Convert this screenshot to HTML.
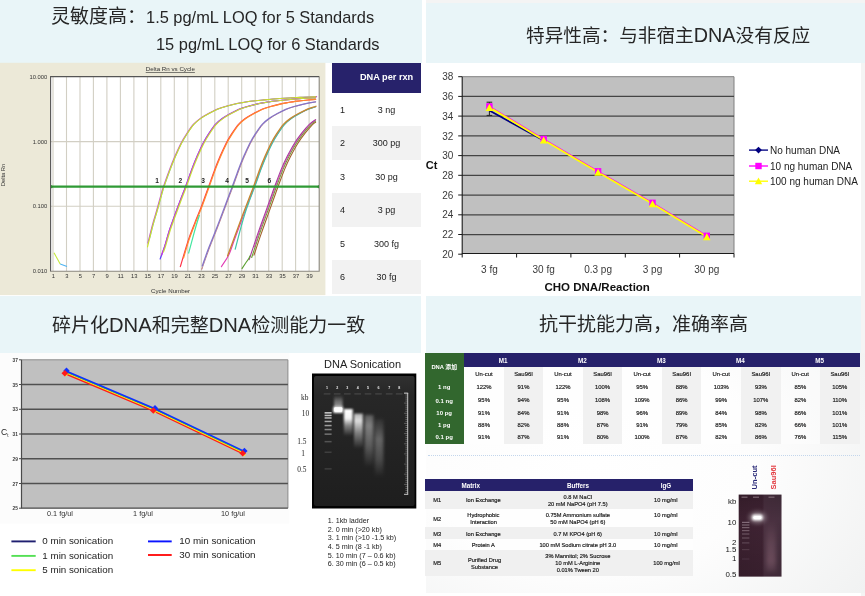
<!DOCTYPE html>
<html lang="zh">
<head>
<meta charset="utf-8">
<title>resDNA assay performance</title>
<style>
html,body{margin:0;padding:0;background:#fff;}
body{width:865px;height:596px;overflow:hidden;position:relative;font-family:"Liberation Sans","Noto Sans CJK SC",sans-serif;color:#222;}
#stage{position:absolute;left:0;top:0;width:865px;height:596px;overflow:hidden;background:#fff;filter:blur(0.45px);}
.abs{position:absolute;}
.band{position:absolute;background:#e9f5f8;}
.ttl{position:absolute;white-space:nowrap;color:#262626;font-size:19px;line-height:24px;font-family:"Liberation Sans","Noto Sans CJK SC",sans-serif;}
.ttl .en{font-size:16.4px;}
.ttl .d{font-size:20.2px;}
.c{transform:translateX(-50%);}
.t{position:absolute;white-space:nowrap;line-height:1;}
</style>
</head>
<body>
<div id="stage">
<!-- ===== header bands + titles ===== -->
<div class="abs" style="left:426px;top:0;width:439px;height:3px;background:#f4f4f4"></div>
<div class="band" style="left:0;top:0;width:422px;height:62.5px"></div>
<div class="band" style="left:426px;top:2.5px;width:439px;height:60px"></div>
<div class="band" style="left:0;top:296px;width:420.5px;height:57px"></div>
<div class="band" style="left:426px;top:296px;width:434.8px;height:56.6px"></div>
<div class="abs" style="left:860.8px;top:62.5px;width:4.2px;height:533.5px;background:#f4f4f4"></div>

<div class="ttl" style="left:51px;top:5px">灵敏度高：<span class="en" style="margin-left:0px">1.5 pg/mL LOQ for 5 Standards</span></div>
<div class="ttl" style="left:156px;top:32px"><span class="en">15 pg/mL LOQ for 6 Standards</span></div>
<div class="ttl" style="left:526px;top:22.6px;font-size:18.65px">特异性高：与非宿主<span class="d" style="font-size:19.8px">DNA</span>没有反应</div>
<div class="ttl" style="left:52px;top:313.2px">碎片化<span class="d">DNA</span>和完整<span class="d">DNA</span>检测能力一致</div>
<div class="ttl" style="left:539px;top:313px">抗干扰能力高，准确率高</div>
<!-- ===== chart 1 : amplification plot ===== -->
<svg class="abs" style="left:0;top:62px" width="327" height="234" viewBox="0 62 327 234" font-family="Liberation Sans, sans-serif">
<rect x="0" y="62.8" width="325.4" height="232.3" fill="#ece9d8"/>
<rect x="51" y="77" width="268" height="194" fill="#ffffff"/>
<path d="M53.0 77V271M66.5 77V271M80.0 77V271M93.4 77V271M106.9 77V271M120.4 77V271M133.9 77V271M147.4 77V271M160.8 77V271M174.3 77V271M187.8 77V271M201.3 77V271M214.8 77V271M228.2 77V271M241.7 77V271M255.2 77V271M268.7 77V271M282.2 77V271M295.6 77V271M309.1 77V271M51 141.6H319M51 206.2H319" stroke="#d2cfc4" stroke-width="1.1" fill="none"/>
<path d="M50.6 271.6V76.6H319.4" stroke="#555" stroke-width="1.1" fill="none"/>
<path d="M319.2 77V271.3H50.6" stroke="#8a8880" stroke-width="1.1" fill="none"/>
<path d="M149.8 238.0C150.4 235.9 151.8 229.8 153.0 225.3C154.2 220.8 155.8 215.9 157.2 211.0C158.6 206.1 160.2 200.0 161.4 195.9C162.6 191.8 162.6 191.2 164.1 186.7C165.6 182.2 168.6 174.0 170.5 168.9C172.4 163.8 173.8 160.5 175.6 156.3C177.4 152.1 179.4 147.5 181.4 143.7C183.4 139.9 185.2 136.9 187.3 133.7C189.4 130.5 191.8 126.9 194.0 124.4C196.2 121.9 198.2 120.4 200.7 118.6C203.2 116.8 206.3 115.0 209.1 113.5C211.9 112.0 214.7 110.5 217.5 109.3C220.3 108.1 223.1 107.3 225.9 106.5C228.7 105.7 231.5 105.0 234.3 104.3C237.1 103.6 240.0 103.1 242.7 102.6C245.4 102.1 247.0 101.7 250.4 101.3C253.8 100.9 258.4 100.5 263.4 100.0C268.4 99.5 274.2 98.9 280.4 98.5C286.6 98.1 294.5 97.7 300.4 97.4C306.3 97.1 313.1 96.8 315.6 96.7" stroke="#6fb6ee" stroke-width="1.0" fill="none" stroke-linecap="round"/>
<path d="M147.9 243.0C148.6 240.1 150.9 230.6 152.3 225.3C153.7 220.0 155.1 215.9 156.5 211.0C157.9 206.1 159.5 200.0 160.7 195.9C161.8 191.8 161.9 191.2 163.4 186.7C164.9 182.2 167.9 174.0 169.8 168.9C171.7 163.8 173.1 160.5 174.9 156.3C176.7 152.1 178.8 147.5 180.7 143.7C182.6 139.9 184.5 136.9 186.6 133.7C188.7 130.5 191.1 126.9 193.3 124.4C195.5 121.9 197.5 120.4 200.0 118.6C202.5 116.8 205.6 115.0 208.4 113.5C211.2 112.0 214.0 110.5 216.8 109.3C219.6 108.1 222.4 107.3 225.2 106.5C228.0 105.7 230.8 105.0 233.6 104.3C236.4 103.6 239.3 103.1 242.0 102.6C244.7 102.1 246.2 101.7 249.7 101.3C253.1 100.9 257.7 100.5 262.7 100.0C267.7 99.5 273.5 98.9 279.7 98.5C285.9 98.1 293.8 97.7 299.7 97.4C305.6 97.1 312.6 96.8 315.3 96.7C318.0 96.6 315.6 96.7 315.6 96.7" stroke="#c24fd2" stroke-width="1.1" fill="none" stroke-linecap="round"/>
<path d="M147.9 245.4C147.9 245.4 147.1 248.8 147.9 245.4C148.7 242.1 151.4 231.0 152.9 225.3C154.4 219.6 155.7 215.9 157.1 211.0C158.5 206.1 160.2 200.0 161.3 195.9C162.5 191.8 162.5 191.2 164.0 186.7C165.5 182.2 168.5 174.0 170.4 168.9C172.3 163.8 173.7 160.5 175.5 156.3C177.3 152.1 179.4 147.5 181.3 143.7C183.2 139.9 185.1 136.9 187.2 133.7C189.3 130.5 191.7 126.9 193.9 124.4C196.1 121.9 198.1 120.4 200.6 118.6C203.1 116.8 206.2 115.0 209.0 113.5C211.8 112.0 214.6 110.5 217.4 109.3C220.2 108.1 223.0 107.3 225.8 106.5C228.6 105.7 231.4 105.0 234.2 104.3C237.0 103.6 239.9 103.1 242.6 102.6C245.3 102.1 246.9 101.7 250.3 101.3C253.8 100.9 258.3 100.5 263.3 100.0C268.3 99.5 274.1 98.9 280.3 98.5C286.5 98.1 294.4 97.7 300.3 97.4C306.2 97.1 313.1 96.8 315.6 96.7" stroke="#c9e326" stroke-width="1.1" fill="none" stroke-linecap="round"/>
<path d="M160.3 258.5C160.4 258.4 159.8 260.0 160.5 258.0C161.2 256.0 163.3 250.6 164.7 246.3C166.1 242.0 167.4 236.8 168.9 232.0C170.4 227.2 172.1 222.8 173.9 217.8C175.7 212.8 177.8 207.0 179.8 201.8C181.7 196.6 183.6 192.2 185.6 186.7C187.6 181.2 190.1 174.0 192.0 168.9C193.9 163.8 195.3 160.5 197.1 156.3C198.9 152.1 200.9 147.5 202.9 143.7C204.9 139.9 206.7 136.9 208.8 133.7C210.9 130.5 213.3 126.9 215.5 124.4C217.7 121.9 219.7 120.4 222.2 118.6C224.7 116.8 227.8 115.0 230.6 113.5C233.4 112.0 236.2 110.5 239.0 109.3C241.8 108.1 244.6 107.3 247.4 106.5C250.2 105.7 253.0 105.0 255.8 104.3C258.6 103.6 261.5 103.1 264.2 102.6C266.9 102.1 268.5 101.7 271.9 101.3C275.4 100.9 279.9 100.5 284.9 100.0C289.9 99.5 296.8 98.9 301.9 98.5C307.0 98.1 313.3 97.9 315.6 97.7" stroke="#5a3cff" stroke-width="1.2" fill="none" stroke-linecap="round"/>
<path d="M161.6 255.0C162.1 253.6 163.5 250.1 164.7 246.3C165.9 242.5 167.4 236.8 168.9 232.0C170.4 227.2 172.1 222.8 173.9 217.8C175.7 212.8 177.8 207.0 179.8 201.8C181.7 196.6 183.6 192.2 185.6 186.7C187.6 181.2 190.1 174.0 192.0 168.9C193.9 163.8 195.3 160.5 197.1 156.3C198.9 152.1 200.9 147.5 202.9 143.7C204.9 139.9 206.7 136.9 208.8 133.7C210.9 130.5 213.3 126.9 215.5 124.4C217.7 121.9 219.7 120.4 222.2 118.6C224.7 116.8 227.8 115.0 230.6 113.5C233.4 112.0 236.2 110.5 239.0 109.3C241.8 108.1 244.6 107.3 247.4 106.5C250.2 105.7 253.0 105.0 255.8 104.3C258.6 103.6 261.5 103.1 264.2 102.6C266.9 102.1 268.5 101.7 271.9 101.3C275.4 100.9 279.9 100.5 284.9 100.0C289.9 99.5 296.8 98.9 301.9 98.5C307.0 98.1 313.3 97.9 315.6 97.7" stroke="#d238d2" stroke-width="1.1" fill="none" stroke-linecap="round"/>
<path d="M163.5 252.0C163.8 251.1 164.5 249.6 165.5 246.3C166.5 243.0 168.2 236.8 169.7 232.0C171.2 227.2 172.9 222.8 174.7 217.8C176.5 212.8 178.7 207.0 180.6 201.8C182.5 196.6 184.4 192.2 186.4 186.7C188.4 181.2 190.9 174.0 192.8 168.9C194.7 163.8 196.1 160.5 197.9 156.3C199.7 152.1 201.8 147.5 203.7 143.7C205.7 139.9 207.5 136.9 209.6 133.7C211.7 130.5 214.1 126.9 216.3 124.4C218.5 121.9 220.5 120.4 223.0 118.6C225.5 116.8 228.6 115.0 231.4 113.5C234.2 112.0 237.0 110.5 239.8 109.3C242.6 108.1 245.4 107.3 248.2 106.5C251.0 105.7 253.8 105.0 256.6 104.3C259.4 103.6 262.3 103.1 265.0 102.6C267.7 102.1 269.2 101.7 272.7 101.3C276.1 100.9 280.7 100.5 285.7 100.0C290.7 99.5 297.7 98.9 302.7 98.5C307.7 98.1 313.5 97.9 315.6 97.8" stroke="#c4e233" stroke-width="1.1" fill="none" stroke-linecap="round"/>
<path d="M180.9 264.7C180.9 264.7 179.6 268.9 180.9 264.7C182.2 260.5 186.1 246.7 188.5 239.6C190.9 232.5 193.0 227.6 195.2 221.9C197.4 216.2 199.7 211.1 201.9 205.2C204.1 199.3 206.4 192.8 208.6 186.7C210.8 180.6 213.1 174.0 215.0 168.9C216.9 163.8 218.3 160.5 220.1 156.3C221.9 152.1 224.0 147.5 225.9 143.7C227.8 139.9 229.7 136.9 231.8 133.7C233.9 130.5 236.3 126.9 238.5 124.4C240.7 121.9 242.7 120.4 245.2 118.6C247.7 116.8 250.8 115.0 253.6 113.5C256.4 112.0 259.2 110.5 262.0 109.3C264.8 108.1 267.6 107.3 270.4 106.5C273.2 105.7 276.0 105.0 278.8 104.3C281.6 103.6 284.5 103.1 287.2 102.6C289.9 102.1 291.5 101.7 294.9 101.3C298.4 100.9 304.5 100.3 307.9 100.0C311.4 99.7 314.3 99.4 315.6 99.3" stroke="#ff3348" stroke-width="1.2" fill="none" stroke-linecap="round"/>
<path d="M183.5 258.0C184.5 254.9 187.1 245.6 189.1 239.6C191.1 233.6 193.6 227.6 195.8 221.9C198.0 216.2 200.3 211.1 202.5 205.2C204.7 199.3 207.0 192.8 209.2 186.7C211.4 180.6 213.7 174.0 215.6 168.9C217.5 163.8 218.9 160.5 220.7 156.3C222.5 152.1 224.6 147.5 226.5 143.7C228.4 139.9 230.3 136.9 232.4 133.7C234.5 130.5 236.9 126.9 239.1 124.4C241.3 121.9 243.3 120.4 245.8 118.6C248.3 116.8 251.4 115.0 254.2 113.5C257.0 112.0 259.8 110.5 262.6 109.3C265.4 108.1 268.2 107.3 271.0 106.5C273.8 105.7 276.6 105.0 279.4 104.3C282.2 103.6 285.1 103.1 287.8 102.6C290.5 102.1 292.1 101.7 295.5 101.3C298.9 100.9 305.1 100.3 308.5 100.0C311.9 99.7 314.4 99.5 315.6 99.4" stroke="#ff8a2e" stroke-width="1.2" fill="none" stroke-linecap="round"/>
<path d="M202.2 268.1C202.2 268.1 200.9 271.6 202.2 268.1C203.5 264.6 207.4 253.4 209.8 247.1C212.2 240.8 214.2 236.2 216.5 230.3C218.8 224.4 221.2 217.9 223.5 211.9C225.8 205.9 228.4 198.7 230.0 194.5C231.6 190.3 231.4 191.0 233.0 186.7C234.6 182.4 237.5 174.0 239.4 168.9C241.3 163.8 242.7 160.5 244.5 156.3C246.3 152.1 248.4 147.5 250.3 143.7C252.2 139.9 254.1 136.9 256.2 133.7C258.3 130.5 260.7 126.9 262.9 124.4C265.1 121.9 267.1 120.4 269.6 118.6C272.1 116.8 275.2 115.0 278.0 113.5C280.8 112.0 283.6 110.5 286.4 109.3C289.2 108.1 292.0 107.3 294.8 106.5C297.6 105.7 300.4 105.0 303.2 104.3C306.0 103.6 309.5 103.0 311.6 102.6C313.7 102.2 314.9 102.0 315.6 101.9" stroke="#c48a8a" stroke-width="1.0" fill="none" stroke-linecap="round"/>
<path d="M202.3 266.0C203.4 262.9 206.8 253.0 209.1 247.1C211.4 241.2 213.5 236.2 215.8 230.3C218.1 224.4 220.6 217.9 222.8 211.9C225.1 205.9 227.7 198.7 229.3 194.5C230.9 190.3 230.7 191.0 232.3 186.7C233.9 182.4 236.8 174.0 238.7 168.9C240.6 163.8 242.0 160.5 243.8 156.3C245.6 152.1 247.7 147.5 249.6 143.7C251.6 139.9 253.4 136.9 255.5 133.7C257.6 130.5 260.0 126.9 262.2 124.4C264.4 121.9 266.4 120.4 268.9 118.6C271.4 116.8 274.5 115.0 277.3 113.5C280.1 112.0 282.9 110.5 285.7 109.3C288.5 108.1 291.3 107.3 294.1 106.5C296.9 105.7 299.7 105.0 302.5 104.3C305.3 103.6 308.7 103.0 310.9 102.6C313.1 102.2 314.8 101.9 315.6 101.8" stroke="#8474c8" stroke-width="1.3" fill="none" stroke-linecap="round"/>
<path d="M221.9 265.9C221.9 265.9 220.7 267.8 221.9 265.9C223.1 264.0 226.7 259.2 228.9 254.7C231.0 250.2 232.4 245.1 234.8 238.7C237.2 232.3 240.3 223.7 243.2 216.1C246.1 208.5 250.1 197.9 252.0 193.0C253.9 188.1 252.9 190.7 254.4 186.7C255.9 182.7 258.9 174.0 260.8 168.9C262.7 163.8 264.1 160.5 265.9 156.3C267.7 152.1 269.8 147.5 271.7 143.7C273.6 139.9 275.5 136.9 277.6 133.7C279.7 130.5 282.1 126.9 284.3 124.4C286.5 121.9 288.5 120.4 291.0 118.6C293.5 116.8 296.6 115.0 299.4 113.5C302.2 112.0 305.1 110.4 307.8 109.3C310.5 108.2 314.3 107.1 315.6 106.7" stroke="#e23cb4" stroke-width="1.1" fill="none" stroke-linecap="round"/>
<path d="M248.6 203.0C249.2 201.3 251.4 195.7 252.4 193.0C253.4 190.3 253.3 190.7 254.8 186.7C256.3 182.7 259.3 174.0 261.2 168.9C263.1 163.8 264.5 160.5 266.3 156.3C268.1 152.1 270.1 147.5 272.1 143.7C274.0 139.9 275.9 136.9 278.0 133.7C280.1 130.5 282.5 126.9 284.7 124.4C286.9 121.9 288.9 120.4 291.4 118.6C293.9 116.8 297.0 115.0 299.8 113.5C302.6 112.0 305.6 110.4 308.2 109.3C310.8 108.2 314.4 107.2 315.6 106.8" stroke="#3fc6a8" stroke-width="1.1" fill="none" stroke-linecap="round"/>
<path d="M228.0 254.7C228.0 254.7 227.0 257.4 228.0 254.7C229.0 252.0 231.5 245.1 233.9 238.7C236.3 232.3 239.4 223.7 242.3 216.1C245.2 208.5 249.2 197.9 251.1 193.0C253.0 188.1 252.0 190.7 253.5 186.7C255.0 182.7 258.0 174.0 259.9 168.9C261.8 163.8 263.2 160.5 265.0 156.3C266.8 152.1 268.9 147.5 270.8 143.7C272.8 139.9 274.6 136.9 276.7 133.7C278.8 130.5 281.2 126.9 283.4 124.4C285.6 121.9 287.6 120.4 290.1 118.6C292.6 116.8 295.7 115.0 298.5 113.5C301.3 112.0 304.1 110.5 306.9 109.3C309.7 108.1 313.9 107.0 315.3 106.5C316.8 106.0 315.6 106.4 315.6 106.4" stroke="#c6872e" stroke-width="1.3" fill="none" stroke-linecap="round"/>
<path d="M254.0 255.2C255.1 251.9 258.1 242.6 260.6 235.4C263.1 228.2 266.5 218.8 269.0 211.9C271.5 205.0 273.9 198.2 275.4 194.0C276.9 189.8 276.4 190.9 278.0 186.7C279.6 182.5 282.7 174.0 284.8 168.9C286.9 163.8 288.5 160.5 290.6 156.3C292.8 152.1 295.2 147.5 297.6 143.7C299.9 139.9 302.2 136.9 304.7 133.7C307.2 130.5 310.9 126.3 312.7 124.4C314.5 122.5 315.1 122.6 315.6 122.2" stroke="#a4622e" stroke-width="1.1" fill="none" stroke-linecap="round"/>
<path d="M251.7 257.5C252.9 253.8 256.4 243.0 259.0 235.4C261.6 227.8 264.9 218.8 267.4 211.9C269.9 205.0 272.3 198.2 273.8 194.0C275.3 189.8 274.8 190.9 276.4 186.7C278.0 182.5 281.1 174.0 283.2 168.9C285.3 163.8 286.9 160.5 289.0 156.3C291.2 152.1 293.6 147.5 296.0 143.7C298.3 139.9 300.6 136.9 303.1 133.7C305.6 130.5 309.0 126.5 311.1 124.4C313.2 122.3 314.8 121.6 315.6 121.0" stroke="#6aa332" stroke-width="1.1" fill="none" stroke-linecap="round"/>
<path d="M254.3 247.0C254.9 245.1 256.1 241.2 258.1 235.4C260.1 229.6 264.0 218.8 266.5 211.9C269.0 205.0 271.4 198.2 272.9 194.0C274.4 189.8 273.9 190.9 275.5 186.7C277.1 182.5 280.2 174.0 282.3 168.9C284.4 163.8 286.0 160.5 288.1 156.3C290.3 152.1 292.7 147.5 295.1 143.7C297.4 139.9 299.7 136.9 302.2 133.7C304.7 130.5 308.0 126.6 310.2 124.4C312.4 122.2 314.7 121.0 315.6 120.3" stroke="#d25cae" stroke-width="1.0" fill="none" stroke-linecap="round"/>
<path d="M249.7 258.0C249.7 258.0 248.5 261.8 249.7 258.0C251.0 254.2 254.6 243.1 257.2 235.4C259.9 227.7 263.1 218.8 265.6 211.9C268.1 205.0 270.5 198.2 272.0 194.0C273.5 189.8 273.0 190.9 274.6 186.7C276.2 182.5 279.3 174.0 281.4 168.9C283.5 163.8 285.1 160.5 287.2 156.3C289.4 152.1 291.8 147.5 294.2 143.7C296.5 139.9 298.8 136.9 301.3 133.7C303.8 130.5 306.9 126.7 309.3 124.4C311.7 122.1 314.5 120.4 315.6 119.6" stroke="#a83c9e" stroke-width="1.1" fill="none" stroke-linecap="round"/>
<path d="M188.5 253.5C191.5 243 195 228 199.5 215" stroke="#43e6a0" stroke-width="1.2" fill="none"/>
<path d="M241.8 268.9L246 262.5L248.6 258.9L250.3 255.5" stroke="#5aa02e" stroke-width="1.1" fill="none"/>
<path d="M235.1 249.6C238 239 243.5 215 248.9 202.5" stroke="#3fc6a8" stroke-width="1.2" fill="none"/>
<path d="M54 252.8L60.2 264" stroke="#c4e83a" stroke-width="1.1" fill="none"/>
<path d="M60.2 264L67 266.6" stroke="#4fb4f2" stroke-width="1.1" fill="none"/>
<path d="M51 186.7H319" stroke="#2f9a35" stroke-width="2.3" fill="none"/>
<path d="M51 184.9L53.4 186.7L51 188.5Z M319 184.9L316.6 186.7L319 188.5Z" fill="#2f8a33"/>
<g font-size="6.2" fill="#333" text-anchor="middle">
<text x="170.3" y="71.2" text-decoration="underline">Delta Rn vs Cycle</text>
<text x="170.6" y="293.4">Cycle Number</text>
<text x="53.3" y="278.4" font-size="5.8">1</text>
<text x="66.8" y="278.4" font-size="5.8">3</text>
<text x="80.3" y="278.4" font-size="5.8">5</text>
<text x="93.7" y="278.4" font-size="5.8">7</text>
<text x="107.2" y="278.4" font-size="5.8">9</text>
<text x="120.7" y="278.4" font-size="5.8">11</text>
<text x="134.2" y="278.4" font-size="5.8">13</text>
<text x="147.7" y="278.4" font-size="5.8">15</text>
<text x="161.1" y="278.4" font-size="5.8">17</text>
<text x="174.6" y="278.4" font-size="5.8">19</text>
<text x="188.1" y="278.4" font-size="5.8">21</text>
<text x="201.6" y="278.4" font-size="5.8">23</text>
<text x="215.1" y="278.4" font-size="5.8">25</text>
<text x="228.5" y="278.4" font-size="5.8">27</text>
<text x="242.0" y="278.4" font-size="5.8">29</text>
<text x="255.5" y="278.4" font-size="5.8">31</text>
<text x="269.0" y="278.4" font-size="5.8">33</text>
<text x="282.5" y="278.4" font-size="5.8">35</text>
<text x="295.9" y="278.4" font-size="5.8">37</text>
<text x="309.4" y="278.4" font-size="5.8">39</text>
</g>
<g font-size="5.8" fill="#333" text-anchor="end">
<text x="47.3" y="79.1">10.000</text>
<text x="47.3" y="143.7">1.000</text>
<text x="47.3" y="208.3">0.100</text>
<text x="47.3" y="272.9">0.010</text>
</g>
<text transform="translate(5.2 175) rotate(-90)" font-size="5.8" fill="#333" text-anchor="middle">Delta Rn</text>
<g font-size="6.6" font-weight="bold" fill="#222" text-anchor="middle">
<text x="157.2" y="182.9">1</text>
<text x="180.4" y="182.9">2</text>
<text x="203.2" y="182.9">3</text>
<text x="227.0" y="182.9">4</text>
<text x="247.2" y="182.9">5</text>
<text x="269.4" y="182.9">6</text>
</g>
</svg>
<!-- ===== DNA per rxn table ===== -->
<style>
#dnat{position:absolute;left:332.3px;top:62.6px;width:88.4px;font-size:9px;color:#222;}
#dnat .h{height:30.3px;background:#27226b;color:#fff;font-weight:bold;position:relative;}
#dnat .r{height:33.53px;position:relative;}
#dnat .g{background:#f2f2f2;}
#dnat span{position:absolute;top:50%;transform:translate(-50%,-50%);white-space:nowrap;line-height:1;}
#dnat .n{left:10.3px;}
#dnat .v{left:54.3px;}
</style>
<div id="dnat">
<div class="h"><span class="v" style="font-size:9.2px">DNA per rxn</span></div>
<div class="r"><span class="n">1</span><span class="v">3 ng</span></div>
<div class="r g"><span class="n">2</span><span class="v">300 pg</span></div>
<div class="r"><span class="n">3</span><span class="v">30 pg</span></div>
<div class="r g"><span class="n">4</span><span class="v">3 pg</span></div>
<div class="r"><span class="n">5</span><span class="v">300 fg</span></div>
<div class="r g"><span class="n">6</span><span class="v">30 fg</span></div>
</div>
<!-- ===== chart 2 : specificity ===== -->
<svg class="abs" style="left:426px;top:62px" width="435" height="234" viewBox="426 62 435 234" font-family="Liberation Sans, sans-serif">
<rect x="462.2" y="76.7" width="271.8" height="176.8" fill="#c0c0c0"/>
<path d="M462.2 76.7H734.0V253.5" stroke="#808080" stroke-width="1" fill="none"/>
<path d="M462.2 234.5H734.0M462.2 214.8H734.0M462.2 195.0H734.0M462.2 175.3H734.0M462.2 155.6H734.0M462.2 135.9H734.0M462.2 116.1H734.0M462.2 96.4H734.0" stroke="#444" stroke-width="1.25" fill="none"/>
<path d="M462.2 76.7V253.5H734.0" stroke="#1a1a1a" stroke-width="1.1" fill="none"/>
<path d="M458.2 254.2H462.2M458.2 234.5H462.2M458.2 214.8H462.2M458.2 195.0H462.2M458.2 175.3H462.2M458.2 155.6H462.2M458.2 135.9H462.2M458.2 116.1H462.2M458.2 96.4H462.2M458.2 76.7H462.2M462.2 253.5V257.5M516.6 253.5V257.5M570.9 253.5V257.5M625.3 253.5V257.5M679.6 253.5V257.5M734.0 253.5V257.5" stroke="#1a1a1a" stroke-width="1" fill="none"/>
<g font-size="10" fill="#3a3a3a" text-anchor="end">
<text x="453.4" y="257.8">20</text>
<text x="453.4" y="238.1">22</text>
<text x="453.4" y="218.4">24</text>
<text x="453.4" y="198.6">26</text>
<text x="453.4" y="178.9">28</text>
<text x="453.4" y="159.2">30</text>
<text x="453.4" y="139.5">32</text>
<text x="453.4" y="119.7">34</text>
<text x="453.4" y="100.0">36</text>
<text x="453.4" y="80.3">38</text>
</g>
<text x="425.8" y="169" font-size="11" font-weight="bold" fill="#111">Ct</text>
<g font-size="10" fill="#3a3a3a" text-anchor="middle">
<text x="489.4" y="273.2">3 fg</text>
<text x="543.7" y="273.2">30 fg</text>
<text x="598.1" y="273.2">0.3 pg</text>
<text x="652.5" y="273.2">3 pg</text>
<text x="706.8" y="273.2">30 pg</text>
</g>
<text x="597.2" y="291.4" font-size="11.5" font-weight="bold" fill="#111" text-anchor="middle">CHO DNA/Reaction</text>
<path d="M489.4 102.2V115.4M486.6 102.2H492.2M486.6 115.4H492.2" stroke="#222" stroke-width="1" fill="none"/>
<path d="M489.4 110.0L543.7 140.0" stroke="#000080" stroke-width="1.7" fill="none" transform="translate(0 0.6)"/>
<path d="M489.4 107.0L543.7 139.6L598.1 171.9L652.5 203.4L706.8 236.4" stroke="#ff00ff" stroke-width="1.5" fill="none" transform="translate(0 -0.55)"/>
<path d="M489.4 107.0L543.7 139.6L598.1 171.9L652.5 203.4L706.8 236.4" stroke="#ffff00" stroke-width="1.9" fill="none" transform="translate(0 0.35)"/>
<rect x="486.2" y="103.2" width="6.4" height="6.2" fill="#ff00ff"/>
<path d="M489.4 103.8L493.2 110.9L485.6 110.9Z" fill="#ffff00"/>
<rect x="540.5" y="135.8" width="6.4" height="6.2" fill="#ff00ff"/>
<path d="M543.7 136.4L547.5 143.5L539.9 143.5Z" fill="#ffff00"/>
<rect x="594.9" y="168.1" width="6.4" height="6.2" fill="#ff00ff"/>
<path d="M598.1 168.7L601.9 175.8L594.3 175.8Z" fill="#ffff00"/>
<rect x="649.3" y="199.6" width="6.4" height="6.2" fill="#ff00ff"/>
<path d="M652.5 200.2L656.3 207.3L648.7 207.3Z" fill="#ffff00"/>
<rect x="703.6" y="232.6" width="6.4" height="6.2" fill="#ff00ff"/>
<path d="M706.8 233.2L710.6 240.3L703.0 240.3Z" fill="#ffff00"/>
<path d="M749 150.1H768" stroke="#000080" stroke-width="1.35"/>
<text x="770" y="153.6" font-size="10" fill="#222">No human DNA</text>
<path d="M749 166.0H768" stroke="#ff00ff" stroke-width="1.35"/>
<text x="770" y="169.5" font-size="10" fill="#222">10 ng human DNA</text>
<path d="M749 181.2H768" stroke="#ffff00" stroke-width="1.35"/>
<text x="770" y="184.7" font-size="10" fill="#222">100 ng human DNA</text>
<path d="M758.5 146.7L761.9 150.1L758.5 153.5L755.1 150.1Z" fill="#000080"/>
<rect x="755.3" y="162.8" width="6.4" height="6.4" fill="#ff00ff"/>
<path d="M758.5 177.4L762.2 184.2L754.8 184.2Z" fill="#ffff00"/>
</svg>
<!-- ===== chart 3 : sonication Ct ===== -->
<svg class="abs" style="left:0;top:353px" width="300" height="243" viewBox="0 353 300 243" font-family="Liberation Sans, sans-serif">
<rect x="0" y="353" width="289.3" height="170.6" fill="#fcfcfc"/>
<rect x="21.5" y="359.8" width="266.4" height="148.4" fill="#c0c0c0"/>
<path d="M21.5 359.8H287.9V508.2" stroke="#8a8a8a" stroke-width="1" fill="none"/>
<path d="M21.5 483.5H287.9M21.5 458.7H287.9M21.5 434.0H287.9M21.5 409.3H287.9M21.5 384.5H287.9" stroke="#505050" stroke-width="1.4" fill="none"/>
<path d="M21.5 359.8V508.2H287.9" stroke="#4a4a4a" stroke-width="1.2" fill="none"/>
<path d="M19.0 508.2H21.5M19.0 483.5H21.5M19.0 458.7H21.5M19.0 434.0H21.5M19.0 409.3H21.5M19.0 384.5H21.5M19.0 359.8H21.5" stroke="#4a4a4a" stroke-width="1" fill="none"/>
<g font-size="6" font-weight="bold" fill="#3a3a3a" text-anchor="end">
<text transform="translate(17.8 510.2) scale(0.8 1)">25</text>
<text transform="translate(17.8 485.5) scale(0.8 1)">27</text>
<text transform="translate(17.8 460.7) scale(0.8 1)">29</text>
<text transform="translate(17.8 436.0) scale(0.8 1)">31</text>
<text transform="translate(17.8 411.3) scale(0.8 1)">33</text>
<text transform="translate(17.8 386.5) scale(0.8 1)">35</text>
<text transform="translate(17.8 361.8) scale(0.8 1)">37</text>
</g>
<text x="1" y="435" font-size="8.6" fill="#222">C<tspan font-size="4.5" dy="1.5">t</tspan></text>
<g font-size="7.3" fill="#333" text-anchor="middle">
<text x="60.0" y="516.4">0.1 fg/ul</text>
<text x="143.0" y="516.4">1 fg/ul</text>
<text x="233.0" y="516.4">10 fg/ul</text>
</g>
<path d="M65.9 372.4L154.4 409.8L243.8 452.6" stroke="#1f1f7a" stroke-width="1.6" fill="none"/>
<path d="M65.9 373.9L154.4 411.1L243.8 453.9" stroke="#ff1a1a" stroke-width="1.8" fill="none"/>
<path d="M65.9 372.8L154.4 410.1L243.8 452.9" stroke="#ffe81a" stroke-width="1.2" fill="none"/>
<path d="M65.9 371.9L154.4 409.3L243.8 452.1" stroke="#46d046" stroke-width="1.0" fill="none"/>
<path d="M65.9 370.9L154.4 408.5L243.8 451.1" stroke="#1030ff" stroke-width="1.6" fill="none"/>
<path d="M66.5 367.5L69.7 370.7L66.5 373.9L63.3 370.7Z" fill="#1030ff"/>
<path d="M66.1 373.0L67.9 374.8L66.1 376.6L64.3 374.8Z" fill="#ffe81a"/>
<path d="M64.8 370.0L68.1 373.3L64.8 376.6L61.5 373.3Z" fill="#ff1a1a"/>
<path d="M155.0 405.1L158.2 408.3L155.0 411.5L151.8 408.3Z" fill="#1030ff"/>
<path d="M154.6 410.2L156.4 412.0L154.6 413.8L152.8 412.0Z" fill="#ffe81a"/>
<path d="M153.3 407.2L156.6 410.5L153.3 413.8L150.0 410.5Z" fill="#ff1a1a"/>
<path d="M244.4 447.7L247.6 450.9L244.4 454.1L241.2 450.9Z" fill="#1030ff"/>
<path d="M244.0 453.0L245.8 454.8L244.0 456.6L242.2 454.8Z" fill="#ffe81a"/>
<path d="M242.7 450.0L246.0 453.3L242.7 456.6L239.4 453.3Z" fill="#ff1a1a"/>
<path d="M11.4 541.4H35.7" stroke="#1f1f70" stroke-width="1.9"/>
<text x="42.3" y="544.1" font-size="9.8" fill="#222">0 min sonication</text>
<path d="M11.4 555.9H35.7" stroke="#55e055" stroke-width="1.9"/>
<text x="42.3" y="558.6" font-size="9.8" fill="#222">1 min sonication</text>
<path d="M11.4 570.2H35.7" stroke="#ffff00" stroke-width="1.9"/>
<text x="42.3" y="572.9" font-size="9.8" fill="#222">5 min sonication</text>
<path d="M148.0 541.4H171.7" stroke="#0a14ff" stroke-width="1.9"/>
<text x="179.3" y="544.1" font-size="9.8" fill="#222">10 min sonication</text>
<path d="M148.0 555.0H171.7" stroke="#ff1010" stroke-width="1.9"/>
<text x="179.3" y="557.7" font-size="9.8" fill="#222">30 min sonication</text>
</svg>
<!-- ===== gel 1 : DNA Sonication ===== -->
<svg class="abs" style="left:296px;top:353px" width="126" height="243" viewBox="296 353 126 243" font-family="Liberation Sans, sans-serif">
<defs>
<filter id="b1" x="-30%" y="-30%" width="160%" height="160%"><feGaussianBlur stdDeviation="0.9"/></filter>
<filter id="b2" x="-30%" y="-30%" width="160%" height="160%"><feGaussianBlur stdDeviation="1.6"/></filter>
<filter id="b05" x="-30%" y="-30%" width="160%" height="160%"><feGaussianBlur stdDeviation="0.5"/></filter>
<filter id="b07" x="-30%" y="-60%" width="160%" height="220%"><feGaussianBlur stdDeviation="0.65"/></filter>
<linearGradient id="gelbg" x1="0" y1="0" x2="0" y2="1"><stop offset="0" stop-color="#303030"/><stop offset="0.15" stop-color="#272727"/><stop offset="1" stop-color="#1e1e1e"/></linearGradient>
<linearGradient id="l2" x1="0" y1="0" x2="0" y2="1"><stop offset="0" stop-color="#fff" stop-opacity="0"/><stop offset="0.55" stop-color="#fff" stop-opacity="0.35"/><stop offset="1" stop-color="#fff" stop-opacity="0.5"/></linearGradient>
<linearGradient id="l3" x1="0" y1="0" x2="0" y2="1"><stop offset="0" stop-color="#fff" stop-opacity="1"/><stop offset="0.35" stop-color="#fff" stop-opacity="0.95"/><stop offset="0.6" stop-color="#fff" stop-opacity="0.45"/><stop offset="1" stop-color="#fff" stop-opacity="0"/></linearGradient>
<linearGradient id="l4" x1="0" y1="0" x2="0" y2="1"><stop offset="0" stop-color="#fff" stop-opacity="0.65"/><stop offset="0.2" stop-color="#fff" stop-opacity="0.85"/><stop offset="0.55" stop-color="#fff" stop-opacity="0.42"/><stop offset="1" stop-color="#fff" stop-opacity="0"/></linearGradient>
<linearGradient id="l5" x1="0" y1="0" x2="0" y2="1"><stop offset="0" stop-color="#fff" stop-opacity="0.25"/><stop offset="0.2" stop-color="#fff" stop-opacity="0.42"/><stop offset="0.6" stop-color="#fff" stop-opacity="0.25"/><stop offset="1" stop-color="#fff" stop-opacity="0"/></linearGradient>
<linearGradient id="l6" x1="0" y1="0" x2="0" y2="1"><stop offset="0" stop-color="#fff" stop-opacity="0.05"/><stop offset="0.35" stop-color="#fff" stop-opacity="0.3"/><stop offset="0.7" stop-color="#fff" stop-opacity="0.18"/><stop offset="1" stop-color="#fff" stop-opacity="0"/></linearGradient>
</defs>
<text x="362.6" y="367.6" font-size="11" fill="#222" text-anchor="middle">DNA Sonication</text>
<rect x="312" y="373.5" width="104.3" height="135" fill="#020202"/>
<rect x="314" y="376" width="100.6" height="130" rx="2" fill="url(#gelbg)"/>
<path d="M315 376.6H413.5" stroke="#4a4a4a" stroke-width="1" filter="url(#b05)"/>
<g font-size="3.6" font-weight="bold" fill="#e8e8e8" text-anchor="middle" filter="url(#b05)">
<text x="327.1" y="389.4">1</text>
<text x="337.2" y="389.4">2</text>
<text x="347.3" y="389.4">3</text>
<text x="357.7" y="389.4">4</text>
<text x="368.0" y="389.4">5</text>
<text x="378.5" y="389.4">6</text>
<text x="389.2" y="389.4">7</text>
<text x="399.2" y="389.4">8</text>
</g>
<g fill="#484848" filter="url(#b05)">
<rect x="323.8" y="393.3" width="6.6" height="1.2"/>
<rect x="333.9" y="393.3" width="6.6" height="1.2"/>
<rect x="344.0" y="393.3" width="6.6" height="1.2"/>
<rect x="354.4" y="393.3" width="6.6" height="1.2"/>
<rect x="364.7" y="393.3" width="6.6" height="1.2"/>
<rect x="375.2" y="393.3" width="6.6" height="1.2"/>
<rect x="385.9" y="393.3" width="6.6" height="1.2"/>
<rect x="395.9" y="393.3" width="6.6" height="1.2"/>
</g>
<g fill="#fff" filter="url(#b07)">
<rect x="324.6" y="412.1" width="7" height="1.5" opacity="0.78"/>
<rect x="324.6" y="414.7" width="7" height="1.5" opacity="0.72"/>
<rect x="324.6" y="417.2" width="7" height="1.5" opacity="0.66"/>
<rect x="324.6" y="420.7" width="7" height="1.5" opacity="0.60"/>
<rect x="324.6" y="424.8" width="7" height="1.5" opacity="0.55"/>
<rect x="324.6" y="428.8" width="7" height="1.5" opacity="0.45"/>
<rect x="324.6" y="433.4" width="7" height="1.5" opacity="0.36"/>
<rect x="324.6" y="440.9" width="7" height="1.5" opacity="0.22"/>
<rect x="324.6" y="451.5" width="7" height="1.5" opacity="0.13"/>
<rect x="324.6" y="468.1" width="7" height="1.5" opacity="0.13"/>
</g>
<rect x="334" y="395" width="8.6" height="12" fill="url(#l2)" filter="url(#b1)"/>
<rect x="333.2" y="406.4" width="10" height="6.6" rx="1.5" fill="#fff" filter="url(#b1)"/>
<rect x="334.2" y="407.2" width="8" height="4.6" rx="1" fill="#fff"/>
<rect x="343.9" y="409" width="8.8" height="27" fill="url(#l3)" filter="url(#b1)"/>
<rect x="354" y="413.6" width="8.8" height="35" fill="url(#l4)" filter="url(#b1)"/>
<rect x="364.6" y="415" width="8.8" height="52" fill="url(#l5)" filter="url(#b2)"/>
<rect x="374.8" y="419" width="8.6" height="58" fill="url(#l6)" filter="url(#b2)"/>
<g stroke="#d4d4d4" fill="none" filter="url(#b05)">
<path d="M407.7 393V494.5" stroke-width="0.9"/>
<path d="M404.2 393.0H407.7M405.4 395.0H407.7M405.4 397.1H407.7M405.4 399.1H407.7M405.4 401.1H407.7M404.2 403.1H407.7M405.4 405.2H407.7M405.4 407.2H407.7M405.4 409.2H407.7M405.4 411.3H407.7M404.2 413.3H407.7M405.4 415.3H407.7M405.4 417.4H407.7M405.4 419.4H407.7M405.4 421.4H407.7M404.2 423.4H407.7M405.4 425.5H407.7M405.4 427.5H407.7M405.4 429.5H407.7M405.4 431.6H407.7M404.2 433.6H407.7M405.4 435.6H407.7M405.4 437.7H407.7M405.4 439.7H407.7M405.4 441.7H407.7M404.2 443.8H407.7M405.4 445.8H407.7M405.4 447.8H407.7M405.4 449.8H407.7M405.4 451.9H407.7M404.2 453.9H407.7M405.4 455.9H407.7M405.4 458.0H407.7M405.4 460.0H407.7M405.4 462.0H407.7M404.2 464.1H407.7M405.4 466.1H407.7M405.4 468.1H407.7M405.4 470.1H407.7M405.4 472.2H407.7M404.2 474.2H407.7M405.4 476.2H407.7M405.4 478.3H407.7M405.4 480.3H407.7M405.4 482.3H407.7M404.2 484.4H407.7M405.4 486.4H407.7M405.4 488.4H407.7M405.4 490.4H407.7M405.4 492.5H407.7M404.2 494.5H407.7" stroke-width="0.45" opacity="0.8"/>
<path d="M404 393.2H408.2M404 494.3H408.2" stroke-width="0.8"/>
</g>
<g font-family="Liberation Serif, serif" font-size="7.4" fill="#222">
<text x="301.1" y="400.2">kb</text>
<text x="301.7" y="416.3">10</text>
<text x="297.3" y="443.7">1.5</text>
<text x="301.2" y="455.7">1</text>
<text x="297.3" y="471.7">0.5</text>
</g>
<g font-size="7.2" fill="#222">
<text x="327.7" y="523.1">1. 1kb ladder</text>
<text x="327.7" y="531.8">2. 0 min (&gt;20 kb)</text>
<text x="327.7" y="540.4">3. 1 min (&gt;10 -1.5 kb)</text>
<text x="327.7" y="549.1">4. 5 min (8 -1 kb)</text>
<text x="327.7" y="557.7">5. 10 min (7 – 0.6 kb)</text>
<text x="327.7" y="566.4">6. 30 min (6 – 0.5 kb)</text>
</g>
</svg>
<!-- ===== bottom-right : interference tables + gel 2 ===== -->
<style>
#br{position:absolute;left:422px;top:352px;width:443px;height:244px;}
#brbg{position:absolute;left:4px;top:0.6px;width:439px;height:240.2px;background:radial-gradient(ellipse 75% 95% at 38% 45%,#ffffff 0%,#fdfdfd 50%,#f1f2f2 100%);}
#rt{position:absolute;left:2.9px;top:1.1px;width:435px;height:90.6px;font-size:5.9px;color:#1c1c1c;-webkit-text-stroke:0.18px #1c1c1c;}
#rt .gc{position:absolute;left:0;top:0;width:39.3px;height:90.6px;background:#32672e;}
#rt .nv{position:absolute;left:39.3px;top:0;width:395.4px;height:14px;background:#26216a;}
#rt .gcol{position:absolute;top:14px;width:39.54px;height:76.6px;background:#f1f1f1;}
#rt .wcol{position:absolute;top:14px;width:39.54px;height:76.6px;background:rgba(255,255,255,0.35);}
#rt span{position:absolute;transform:translate(-50%,calc(-50% + 0.9px));white-space:nowrap;line-height:1;}
#rt .w{color:#fff;font-weight:bold;-webkit-text-stroke:0;}
#mt{position:absolute;left:3px;top:126.5px;width:268.2px;font-size:5.7px;color:#1c1c1c;-webkit-text-stroke:0.18px #1c1c1c;}
#mt .hd{height:12px;background:#26216a;position:relative;}
#mt .rw{position:relative;}
#mt .gr{background:#f0f0f0;}
#mt .wh{background:rgba(255,255,255,0.4);}
#mt span{position:absolute;transform:translate(-50%,calc(-50% + 1px));white-space:nowrap;line-height:1;}
#mt span.l{transform:translate(0,calc(-50% + 1px));}
#mt .w{color:#fff;font-weight:bold;font-size:6.3px;-webkit-text-stroke:0;}
</style>
<div id="br"><div id="brbg"></div>
<div id="rt"><div class="gc"></div><div class="nv"></div>
<div class="wcol" style="left:39.30px"></div>
<div class="gcol" style="left:78.84px"></div>
<div class="wcol" style="left:118.38px"></div>
<div class="gcol" style="left:157.92px"></div>
<div class="wcol" style="left:197.46px"></div>
<div class="gcol" style="left:237.00px"></div>
<div class="wcol" style="left:276.54px"></div>
<div class="gcol" style="left:316.08px"></div>
<div class="wcol" style="left:355.62px"></div>
<div class="gcol" style="left:395.16px"></div>
<span class="w" style="left:19.3px;top:14.2px;font-size:5.8px">DNA 添加</span>
<span class="w" style="left:78.3px;top:7.3px;font-size:6.3px">M1</span>
<span class="w" style="left:157.4px;top:7.3px;font-size:6.3px">M2</span>
<span class="w" style="left:236.5px;top:7.3px;font-size:6.3px">M3</span>
<span class="w" style="left:315.6px;top:7.3px;font-size:6.3px">M4</span>
<span class="w" style="left:394.7px;top:7.3px;font-size:6.3px">M5</span>
<span style="left:59.1px;top:21.3px">Un-cut</span>
<span style="left:98.6px;top:21.3px">Sau96I</span>
<span style="left:138.1px;top:21.3px">Un-cut</span>
<span style="left:177.7px;top:21.3px">Sau96I</span>
<span style="left:217.2px;top:21.3px">Un-cut</span>
<span style="left:256.8px;top:21.3px">Sau96I</span>
<span style="left:296.3px;top:21.3px">Un-cut</span>
<span style="left:335.9px;top:21.3px">Sau96I</span>
<span style="left:375.4px;top:21.3px">Un-cut</span>
<span style="left:414.9px;top:21.3px">Sau96I</span>
<span class="w" style="left:19.3px;top:33.3px;font-size:6px">1 ng</span>
<span style="left:59.1px;top:34.1px">122%</span>
<span style="left:98.6px;top:34.1px">91%</span>
<span style="left:138.1px;top:34.1px">122%</span>
<span style="left:177.7px;top:34.1px">100%</span>
<span style="left:217.2px;top:34.1px">95%</span>
<span style="left:256.8px;top:34.1px">88%</span>
<span style="left:296.3px;top:34.1px">103%</span>
<span style="left:335.9px;top:34.1px">93%</span>
<span style="left:375.4px;top:34.1px">85%</span>
<span style="left:414.9px;top:34.1px">105%</span>
<span class="w" style="left:19.3px;top:46.5px;font-size:6px">0.1 ng</span>
<span style="left:59.1px;top:47.3px">95%</span>
<span style="left:98.6px;top:47.3px">94%</span>
<span style="left:138.1px;top:47.3px">95%</span>
<span style="left:177.7px;top:47.3px">108%</span>
<span style="left:217.2px;top:47.3px">109%</span>
<span style="left:256.8px;top:47.3px">86%</span>
<span style="left:296.3px;top:47.3px">99%</span>
<span style="left:335.9px;top:47.3px">107%</span>
<span style="left:375.4px;top:47.3px">82%</span>
<span style="left:414.9px;top:47.3px">110%</span>
<span class="w" style="left:19.3px;top:59.2px;font-size:6px">10 pg</span>
<span style="left:59.1px;top:60.0px">91%</span>
<span style="left:98.6px;top:60.0px">84%</span>
<span style="left:138.1px;top:60.0px">91%</span>
<span style="left:177.7px;top:60.0px">98%</span>
<span style="left:217.2px;top:60.0px">96%</span>
<span style="left:256.8px;top:60.0px">89%</span>
<span style="left:296.3px;top:60.0px">84%</span>
<span style="left:335.9px;top:60.0px">98%</span>
<span style="left:375.4px;top:60.0px">86%</span>
<span style="left:414.9px;top:60.0px">101%</span>
<span class="w" style="left:19.3px;top:71.4px;font-size:6px">1 pg</span>
<span style="left:59.1px;top:72.2px">88%</span>
<span style="left:98.6px;top:72.2px">82%</span>
<span style="left:138.1px;top:72.2px">88%</span>
<span style="left:177.7px;top:72.2px">87%</span>
<span style="left:217.2px;top:72.2px">91%</span>
<span style="left:256.8px;top:72.2px">79%</span>
<span style="left:296.3px;top:72.2px">85%</span>
<span style="left:335.9px;top:72.2px">82%</span>
<span style="left:375.4px;top:72.2px">66%</span>
<span style="left:414.9px;top:72.2px">101%</span>
<span class="w" style="left:19.3px;top:83.4px;font-size:6px">0.1 pg</span>
<span style="left:59.1px;top:84.2px">91%</span>
<span style="left:98.6px;top:84.2px">87%</span>
<span style="left:138.1px;top:84.2px">91%</span>
<span style="left:177.7px;top:84.2px">80%</span>
<span style="left:217.2px;top:84.2px">100%</span>
<span style="left:256.8px;top:84.2px">87%</span>
<span style="left:296.3px;top:84.2px">82%</span>
<span style="left:335.9px;top:84.2px">86%</span>
<span style="left:375.4px;top:84.2px">76%</span>
<span style="left:414.9px;top:84.2px">115%</span>
</div>
<div class="abs" style="left:6px;top:102.8px;width:432px;height:0;border-top:1.3px dotted #c3d6ec"></div>
<div id="mt">
<div class="hd"><span class="w" style="left:45.7px;top:6.1px">Matrix</span><span class="w" style="left:153.0px;top:6.1px">Buffers</span><span class="w" style="left:240.9px;top:6.1px">IgG</span></div>
<div class="rw gr" style="height:18.5px"><span class="l" style="left:8.3px;top:9.7px">M1</span><span style="left:58.3px;top:9.7px">Ion Exchange</span><span style="left:152.8px;top:6.6px">0.8 M NaCl</span><span style="left:152.8px;top:13.4px">20 mM NaPO4 (pH 7.5)</span><span style="left:240.8px;top:9.7px">10 mg/ml</span></div>
<div class="rw wh" style="height:18.4px"><span class="l" style="left:8.3px;top:9.6px">M2</span><span style="left:58.3px;top:6.3px">Hydrophobic</span><span style="left:58.6px;top:13.0px">Interaction</span><span style="left:152.8px;top:6.3px">0.75M Ammonium sulfate</span><span style="left:152.8px;top:13.0px">50 mM NaPO4 (pH 6)</span><span style="left:240.8px;top:6.3px">10 mg/ml</span></div>
<div class="rw gr" style="height:11.4px"><span class="l" style="left:8.3px;top:6.2px">M3</span><span style="left:58.3px;top:6.2px">Ion Exchange</span><span style="left:152.8px;top:6.2px">0.7 M KPO4 (pH 6)</span><span style="left:240.8px;top:6.2px">10 mg/ml</span></div>
<div class="rw wh" style="height:11.7px"><span class="l" style="left:8.3px;top:6.0px">M4</span><span style="left:58.3px;top:6.0px">Protein A</span><span style="left:152.8px;top:6.0px">100 mM Sodium citrate pH 3.0</span><span style="left:240.8px;top:6.0px">10 mg/ml</span></div>
<div class="rw gr" style="height:25.2px"><span class="l" style="left:8.3px;top:12.4px">M5</span><span style="left:59.5px;top:9.3px">Purified Drug</span><span style="left:59.5px;top:16.5px">Substance</span><span style="left:152.8px;top:6.0px">3% Mannitol; 2% Sucrose</span><span style="left:152.8px;top:13.0px">10 mM L-Arginine</span><span style="left:152.8px;top:19.8px">0.01% Tween 20</span><span style="left:241.5px;top:12.4px">100 mg/ml</span></div>
</div>
<svg class="abs" style="left:278px;top:100px" width="165" height="144" viewBox="700 452 165 144" font-family="Liberation Sans, sans-serif">
<defs>
<filter id="c1" x="-40%" y="-40%" width="180%" height="180%"><feGaussianBlur stdDeviation="1.0"/></filter>
<filter id="c2" x="-40%" y="-40%" width="180%" height="180%"><feGaussianBlur stdDeviation="2.2"/></filter>
<filter id="c05" x="-40%" y="-40%" width="180%" height="180%"><feGaussianBlur stdDeviation="0.5"/></filter>
<linearGradient id="g2bg" x1="0" y1="0" x2="1" y2="0"><stop offset="0" stop-color="#3c2130"/><stop offset="0.55" stop-color="#3f2333"/><stop offset="0.6" stop-color="#4a3040"/><stop offset="1" stop-color="#47303f"/></linearGradient>
<linearGradient id="g2v" x1="0" y1="0" x2="0" y2="1"><stop offset="0" stop-color="#000" stop-opacity="0.15"/><stop offset="0.3" stop-color="#000" stop-opacity="0"/><stop offset="1" stop-color="#000" stop-opacity="0.12"/></linearGradient>
<linearGradient id="sm" x1="0" y1="0" x2="0" y2="1"><stop offset="0" stop-color="#c9a" stop-opacity="0"/><stop offset="0.45" stop-color="#c9a" stop-opacity="0.2"/><stop offset="0.8" stop-color="#c9a" stop-opacity="0.28"/><stop offset="1" stop-color="#c9a" stop-opacity="0.1"/></linearGradient>
</defs>
<rect x="738.7" y="494.6" width="42.8" height="82" fill="url(#g2bg)"/>
<rect x="738.7" y="494.6" width="42.8" height="82" fill="url(#g2v)"/>
<g fill="#7a6570" filter="url(#c05)"><rect x="741.5" y="496.6" width="6" height="1.2"/><rect x="753" y="496.6" width="6" height="1.2"/><rect x="768.5" y="496.6" width="6" height="1.2"/></g>
<g fill="#e8d8e0" filter="url(#c05)">
<rect x="742" y="521.8" width="7.4" height="1.2" opacity="0.40"/>
<rect x="742" y="524.4" width="7.4" height="1.2" opacity="0.36"/>
<rect x="742" y="527.0" width="7.4" height="1.2" opacity="0.34"/>
<rect x="742" y="530.0" width="7.4" height="1.2" opacity="0.30"/>
<rect x="742" y="533.4" width="7.4" height="1.2" opacity="0.27"/>
<rect x="742" y="537.4" width="7.4" height="1.2" opacity="0.24"/>
<rect x="742" y="542.3" width="7.4" height="1.2" opacity="0.20"/>
<rect x="742" y="549.0" width="7.4" height="1.2" opacity="0.13"/>
<rect x="742" y="558.4" width="7.4" height="1.2" opacity="0.09"/>
</g>
<ellipse cx="757.4" cy="517.6" rx="8.5" ry="6" fill="#fff" opacity="0.35" filter="url(#c2)"/>
<rect x="752" y="514.6" width="10.8" height="6" rx="2.4" fill="#fff" opacity="0.92" filter="url(#c1)"/>
<rect x="753.4" y="516" width="8" height="3.2" rx="1.6" fill="#fff" filter="url(#c05)"/>
<rect x="766" y="520" width="10" height="52" fill="url(#sm)" filter="url(#c2)"/>
<g font-size="7.9" fill="#151515" text-anchor="end">
<text x="736.4" y="503.8">kb</text>
<text x="736.4" y="524.7">10</text>
<text x="736.4" y="545.2">2</text>
<text x="736.4" y="552.0">1.5</text>
<text x="736.4" y="561.4">1</text>
<text x="736.4" y="576.5">0.5</text>
</g>
<text transform="translate(757.2 489.4) rotate(-90)" font-size="7.6" font-weight="bold" fill="#2a2a78">Un-cut</text>
<text transform="translate(775.5 489.4) rotate(-90)" font-size="7.5" font-weight="bold" fill="#e2373d">Sau96I</text>
</svg>
</div>
</div>
</body>
</html>
